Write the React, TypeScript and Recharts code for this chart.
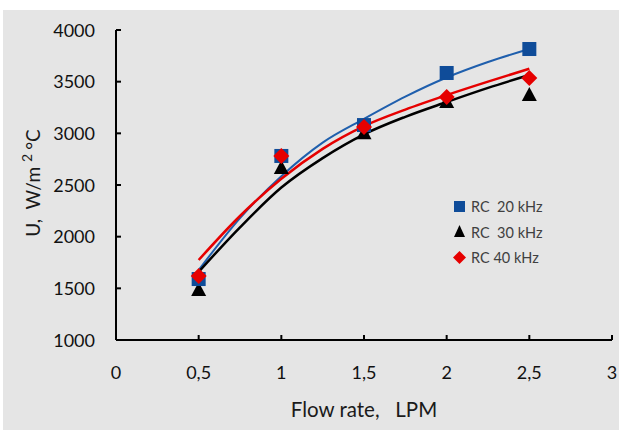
import React from 'react';
import { ComposedChart, Line, Scatter, XAxis, YAxis, Label } from 'recharts';

// measured points
const flowRate = [0.5, 1, 1.5, 2, 2.5];
const rc20 = [1590, 2781, 3080, 3584, 3816];
const rc30 = [1485, 2665, 3000, 3303, 3371];
const rc40 = [1620, 2780, 3061, 3352, 3535];

// fitted trend curves
const fitFlow = [0.5, 0.75, 1, 1.25, 1.5, 1.75, 2, 2.25, 2.5];
const fit20 = [1677, 2180, 2585, 2910, 3140, 3355, 3540, 3690, 3816];
const fit30 = [1660, 2090, 2475, 2760, 2990, 3160, 3303, 3440, 3564];
const fit40 = [1774, 2200, 2560, 2850, 3070, 3230, 3370, 3500, 3625];

const xTicks = [0, 0.5, 1, 1.5, 2, 2.5, 3];
const yTicks = [1000, 1500, 2000, 2500, 3000, 3500, 4000];

const seriesNames = ['RC  20 kHz', 'RC  30 kHz', 'RC 40 kHz'];

const FONT = 'Lato, "Open Sans", sans-serif';
const BLUE = '#0f4c99';
const BLUE_LINE = '#1f5fad';
const RED = '#e60000';

const toPoints = (xs: number[], ys: number[]) => xs.map((x, i) => ({ x, y: ys[i] }));

const Square = ({ cx, cy }: any) => (
  <rect x={cx - 7} y={cy - 7} width={14} height={14} fill={BLUE} />
);
const Triangle = ({ cx, cy }: any) => (
  <polygon points={`${cx},${cy - 8} ${cx + 7.5},${cy + 6} ${cx - 7.5},${cy + 6}`} fill="#000" />
);
const Diamond = ({ cx, cy }: any) => (
  <polygon points={`${cx},${cy - 8} ${cx + 8},${cy} ${cx},${cy + 8} ${cx - 8},${cy}`} fill={RED} />
);

const YTick = ({ x, y, payload }: any) => (
  <g>
    <line x1={x + 21} x2={x + 26} y1={y} y2={y} stroke="#000" strokeWidth={2} />
    <text x={x} y={y} dy={6.5} textAnchor="end" fill="#111" fontSize={18} fontFamily={FONT}>
      {payload.value}
    </text>
  </g>
);

const XTick = ({ x, y, payload }: any) => (
  <g>
    <line x1={x} x2={x} y1={y} y2={y - 5} stroke="#000" strokeWidth={2} />
    <text x={x} y={y} dy={39} textAnchor="middle" fill="#111" fontSize={18} fontFamily={FONT}>
      {String(payload.value).replace('.', ',')}
    </text>
  </g>
);

const YTitle = () => (
  <text
    x={32}
    y={183}
    transform="rotate(-90, 32, 183)"
    textAnchor="middle"
    dominantBaseline="central"
    fill="#1a1a1a"
    fontSize={19}
    fontFamily={FONT}
    xmlSpace="preserve"
  >
    {'U,  W/m'}
    <tspan dx={5} dy={-6} fontSize={14}>2</tspan>
    <tspan dx={4} dy={6}>°C</tspan>
  </text>
);

const XTitle = () => (
  <text x={364} y={417} textAnchor="middle" fill="#1a1a1a" fontSize={20.5} fontFamily={FONT} xmlSpace="preserve">
    {'Flow rate,   LPM'}
  </text>
);

const legendMarkers = [
  <rect key="s" x={1} y={1} width={11} height={11} fill={BLUE} />,
  <polygon key="t" points="6.5,0 12,12 1,12" fill="#000" />,
  <polygon key="d" points="6.5,0 13,6.5 6.5,13 0,6.5" fill={RED} />,
];

const LegendBox = () => (
  <div style={{ position: 'absolute', left: 453, top: 194, fontFamily: FONT, fontSize: 14.5, color: '#404040' }}>
    {seriesNames.map((name, i) => (
      <div key={name} style={{ display: 'flex', alignItems: 'center', height: 25.5 }}>
        <svg width={14} height={14} style={{ marginRight: 4 }}>
          {legendMarkers[i]}
        </svg>
        <span style={{ whiteSpace: 'pre' }}>{name}</span>
      </div>
    ))}
  </div>
);

export default function App() {
  return (
    <div style={{ position: 'absolute', left: 0, top: 0, width: 619, height: 430, background: '#fff' }}>
      <div style={{ position: 'absolute', left: 3, top: 10, width: 616, height: 420, background: '#e5e5e5' }} />
      <div style={{ position: 'absolute', left: 0, top: 0 }}>
        <ComposedChart width={619} height={430} margin={{ top: 30, right: 7, bottom: 60, left: 0 }}>
          <XAxis
            type="number"
            dataKey="x"
            domain={[0, 3]}
            ticks={xTicks}
            interval={0}
            height={30}
            tickSize={0}
            tickMargin={0}
            tickLine={false}
            tick={<XTick />}
            axisLine={{ stroke: '#000', strokeWidth: 2 }}
            allowDataOverflow
          >
            <Label content={<XTitle />} />
          </XAxis>
          <YAxis
            type="number"
            dataKey="y"
            domain={[1000, 4000]}
            ticks={yTicks}
            interval={0}
            width={116}
            tickSize={0}
            tickMargin={21}
            tickLine={false}
            tick={<YTick />}
            axisLine={{ stroke: '#000', strokeWidth: 2 }}
            allowDataOverflow
          >
            <Label content={<YTitle />} />
          </YAxis>
          <Scatter name={seriesNames[1]} data={toPoints(flowRate, rc30)} shape={<Triangle />} isAnimationActive={false} />
          <Scatter name={seriesNames[0]} data={toPoints(flowRate, rc20)} shape={<Square />} isAnimationActive={false} />
          <Scatter name={seriesNames[2]} data={toPoints(flowRate, rc40)} shape={<Diamond />} isAnimationActive={false} />
          <Line data={toPoints(fitFlow, fit20)} dataKey="y" type="monotone" stroke={BLUE_LINE} strokeWidth={2} dot={false} activeDot={false} isAnimationActive={false} />
          <Line data={toPoints(fitFlow, fit30)} dataKey="y" type="monotone" stroke="#000" strokeWidth={2.5} dot={false} activeDot={false} isAnimationActive={false} />
          <Line data={toPoints(fitFlow, fit40)} dataKey="y" type="monotone" stroke={RED} strokeWidth={2.5} dot={false} activeDot={false} isAnimationActive={false} />
        </ComposedChart>
      </div>
      <LegendBox />
    </div>
  );
}
